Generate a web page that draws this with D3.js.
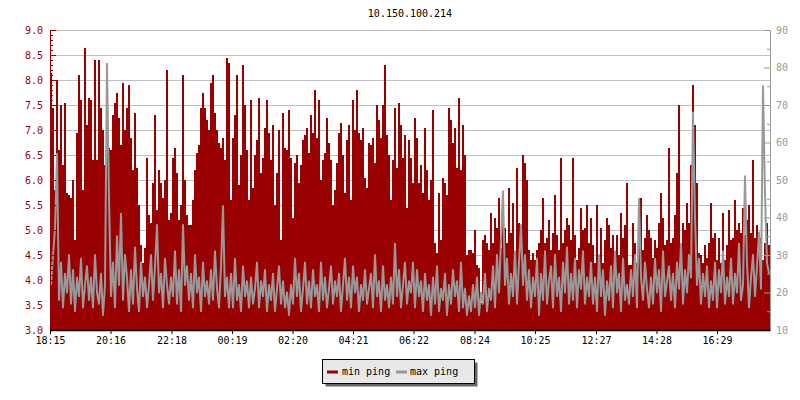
<!DOCTYPE html>
<html>
<head>
<meta charset="utf-8">
<script src="https://cdn.jsdelivr.net/npm/d3@7"></script>
<style>
  html, body { margin: 0; padding: 0; background: #ffffff; }
  svg text { font-family: "DejaVu Sans Mono", "Liberation Mono", monospace; font-size: 10px; }
</style>
</head>
<body>
<svg id="chart" width="800" height="400"></svg>
<script>
// ---- data (one sample every 4 minutes, starting 18:15) ----
const title = "10.150.100.214";
const seriesNames = ["min ping", "max ping"];
const startLabel = "18:15";
const sampleMinutes = 4;

// min ping (left axis)
const minPing = [
  8.15, 7.45, 5.8, 8.0, 6.6, 7.5, 6.3, 7.55, 5.75, 5.7,
  5.65, 6.0, 4.8, 6.95, 8.1, 7.6, 5.8, 8.65, 7.1, 7.65,
  7.6, 6.4, 8.4, 6.4, 8.4, 7.45, 7.0, 6.3, 6.95, 6.65,
  6.6, 7.3, 7.55, 7.75, 7.25, 6.7, 7.95, 7.0, 7.45, 7.9,
  6.85, 6.2, 7.35, 6.25, 5.5, 4.7, 4.35, 4.65, 6.45, 5.3,
  5.15, 5.95, 7.3, 5.4, 6.2, 5.95, 5.65, 6.0, 8.2, 5.2,
  5.35, 6.45, 6.65, 6.15, 5.2, 5.5, 8.1, 6.0, 5.3, 5.1,
  5.1, 5.6, 6.2, 6.55, 6.7, 7.45, 7.75, 7.45, 7.2, 7.0,
  7.95, 8.1, 7.35, 7.0, 6.75, 6.65, 6.85, 6.4, 8.45, 8.35,
  5.6, 6.85, 7.3, 8.1, 5.9, 6.5, 8.3, 7.5, 6.6, 5.6,
  7.6, 5.85, 6.5, 6.8, 7.65, 6.15, 6.45, 7.05, 7.6, 6.95,
  6.4, 7.1, 5.5, 6.15, 7.0, 4.8, 7.35, 6.65, 6.6, 7.4,
  6.45, 5.25, 6.35, 6.5, 5.95, 6.3, 6.8, 6.9, 7.05, 6.55,
  7.3, 6.95, 7.8, 6.85, 7.6, 6.0, 6.4, 6.55, 7.25, 6.75,
  6.4, 5.5, 5.8, 6.35, 6.95, 7.15, 6.5, 5.75, 6.8, 7.1,
  5.6, 7.6, 7.0, 7.8, 6.95, 6.8, 7.05, 6.05, 5.85, 6.75,
  6.7, 6.85, 6.35, 7.5, 7.2, 6.85, 7.5, 8.3, 6.9, 6.5,
  5.6, 6.4, 7.45, 6.25, 7.55, 7.1, 6.45, 6.9, 5.45, 6.8,
  6.45, 5.95, 7.25, 6.85, 5.95, 6.3, 5.75, 7.05, 6.2, 5.6,
  6.0, 7.4, 4.75, 4.55, 5.75, 4.8, 6.05, 5.95, 5.7, 7.45,
  7.2, 6.75, 7.05, 6.25, 7.65, 6.2, 7.1, 6.5, 4.5, 4.6,
  4.6, 4.55, 5.0, 4.3, 4.25, 3.55, 4.8, 4.9, 4.75, 4.6,
  5.35, 4.75, 5.25, 5.05, 5.65, 4.65, 5.5, 5.05, 4.75, 5.85,
  4.95, 5.55, 4.2, 6.25, 5.15, 5.0, 6.5, 6.35, 6.0, 4.6,
  4.4, 4.55, 4.4, 4.6, 4.75, 5.0, 5.65, 4.75, 4.85, 5.2,
  4.6, 4.95, 5.7, 4.9, 4.6, 6.45, 4.75, 5.0, 5.25, 5.1,
  4.8, 6.45, 4.9, 4.4, 4.65, 5.45, 5.0, 5.05, 5.5, 4.75,
  5.25, 4.7, 4.35, 5.5, 4.4, 5.05, 4.35, 4.8, 5.25, 5.1,
  4.65, 4.9, 4.55, 4.9, 4.5, 5.35, 4.85, 5.1, 5.95, 4.3,
  4.3, 5.15, 4.75, 4.35, 4.85, 5.65, 4.6, 4.85, 5.3, 5.0,
  4.85, 4.45, 4.8, 4.65, 5.15, 5.75, 5.25, 4.7, 4.8, 6.65,
  4.75, 4.85, 5.3, 6.15, 7.5, 4.55, 5.15, 5.0, 5.55, 5.15,
  6.3, 7.9, 7.1, 5.95, 4.55, 4.5, 4.35, 4.7, 4.45, 4.75,
  5.55, 4.85, 4.95, 4.4, 4.85, 4.35, 5.35, 4.4, 4.7, 5.4,
  4.8, 4.85, 5.6, 5.0, 5.15, 4.95, 5.45, 4.9, 5.2, 5.5,
  4.95, 6.4, 4.85, 5.1, 4.75, 4.85, 4.4, 4.75, 5.15, 4.7
];

// max ping (right axis)
const maxPing = [
  22, 30, 37, 57, 18, 28, 16, 25, 20, 30,
  17, 26, 15, 24, 19, 29, 16, 22, 27, 18,
  24, 16, 30, 20, 17, 25, 14, 22, 81, 45,
  19, 28, 16, 35, 22, 41, 18, 30, 24, 15,
  26, 17, 32, 21, 15, 28, 19, 24, 16, 22,
  30, 18, 27, 38, 20, 25, 16, 29, 22, 17,
  24, 19, 31, 17, 26, 15, 38, 22, 27, 18,
  25, 16, 30, 20, 24, 15, 28, 19, 23, 17,
  26, 18, 31, 21, 16, 27, 43, 19, 24, 16,
  25, 16, 29, 18, 22, 15, 27, 19, 23, 16,
  24, 17, 21, 28, 16, 23, 19, 26, 15, 22,
  18, 25, 15, 21, 27, 17, 23, 16, 20, 14,
  22, 17, 29, 19, 25, 15, 21, 28, 17, 23,
  16, 26, 19, 22, 15, 28, 18, 24, 16, 21,
  27, 17, 23, 19, 25, 15, 22, 29, 18, 24,
  16, 27, 20, 24, 15, 22, 18, 26, 17, 21,
  25, 16, 30, 19, 23, 15, 27, 18, 22, 16,
  24, 17, 33, 19, 26, 16, 22, 28, 17, 23,
  20, 28, 16, 26, 19, 23, 15, 25, 18, 22,
  14, 24, 17, 27, 15, 21, 18, 25, 14, 22,
  17, 26, 19, 23, 15, 28, 16, 21, 14, 19,
  15, 22, 16, 24, 14, 20, 17, 25, 15, 21,
  18, 27, 16, 30, 20, 34, 47, 22, 29, 17,
  25, 19, 31, 17, 28, 38, 22, 30, 18, 26,
  16, 24, 19, 29, 14, 25, 18, 31, 17, 23,
  27, 16, 30, 19, 24, 15, 28, 20, 32, 17,
  25, 18, 29, 16, 26, 21, 31, 17, 24, 19,
  28, 17, 24, 15, 30, 19, 26, 14, 23, 18,
  27, 16, 31, 20, 25, 15, 29, 18, 22, 17,
  26, 19, 30, 16, 45, 24, 18, 28, 21, 16,
  24, 17, 29, 20, 26, 15, 31, 19, 23, 27,
  18, 25, 16, 28, 21, 33, 17, 26, 20, 30,
  24, 68, 40, 22, 29, 17, 25, 19, 27, 16,
  23, 18, 28, 16, 26, 20, 31, 17, 24, 19,
  29, 17, 25, 20, 33, 18, 22, 51, 28, 16,
  24, 30, 19, 27, 36, 21, 75, 46, 28, 25
];

const timeLabels = ["18:15", "20:16", "22:18", "00:19", "02:20", "04:21",
                    "06:22", "08:24", "10:25", "12:27", "14:28", "16:29"];
const leftTickLabels = ["3.0", "3.5", "4.0", "4.5", "5.0", "5.5", "6.0",
                        "6.5", "7.0", "7.5", "8.0", "8.5", "9.0"];
const rightTickLabels = ["10", "20", "30", "40", "50", "60", "70", "80", "90"];

// ---- layout ----
const svg = d3.select("#chart");
const mLeft = 50, mRight = 770, mTop = 30, mBottom = 330;
const RED = "#990000", GRAY = "#999999";

const toMin = s => { const [h, m] = s.split(":").map(Number); return h * 60 + m; };
const start = toMin(startLabel);
const offsetOf = s => { let v = toMin(s) - start; if (v < 0) v += 1440; return v; };

const x = d3.scaleLinear().domain([0, 1440]).range([mLeft, mRight]);
const yL = d3.scaleLinear().domain([+leftTickLabels[0], +leftTickLabels[leftTickLabels.length - 1]]).range([mBottom, mTop]);
const yR = d3.scaleLinear().domain([+rightTickLabels[0], +rightTickLabels[rightTickLabels.length - 1]]).range([mBottom, mTop]);

// title
svg.append("text").attr("x", (mLeft + mRight) / 2).attr("y", 17)
  .attr("text-anchor", "middle").attr("fill", "#000").text(title);

// grid
svg.append("g").selectAll("line").data(leftTickLabels.map(Number)).join("line")
  .attr("x1", mLeft).attr("x2", mRight)
  .attr("y1", d => Math.round(yL(d)) + 0.5).attr("y2", d => Math.round(yL(d)) + 0.5)
  .attr("stroke", "#c0c0c0").attr("stroke-width", 1);

// clip
svg.append("clipPath").attr("id", "plotclip").append("rect")
  .attr("x", mLeft).attr("y", mTop).attr("width", mRight - mLeft).attr("height", mBottom - mTop);

const plot = svg.append("g").attr("clip-path", "url(#plotclip)");

// min ping area (step)
const redData = minPing.concat([minPing[minPing.length - 1]]);
const area = d3.area()
  .x((d, i) => x(i * sampleMinutes))
  .y0(yL(+leftTickLabels[0]))
  .y1(d => yL(d))
  .curve(d3.curveStepAfter);
plot.append("path").datum(redData).attr("d", area)
  .attr("fill", RED).attr("shape-rendering", "crispEdges");

// max ping line
const line = d3.line()
  .x((d, i) => x(i * sampleMinutes + sampleMinutes / 2))
  .y(d => yR(d));
plot.append("path").datum(maxPing).attr("d", line)
  .attr("fill", "none").attr("stroke", GRAY).attr("stroke-width", 2)
  .attr("stroke-linejoin", "round");

// left axis (ticks inward)
const leftMajor = leftTickLabels.map(Number);
const leftMinor = d3.range(30, 91).map(v => v / 10).filter(v => Math.round(v * 10) % 5 !== 0);
const gL = svg.append("g").attr("transform", `translate(${mLeft},0)`);
gL.call(d3.axisRight(yL).tickValues(leftMinor).tickSize(3).tickSizeOuter(0).tickFormat(""));
const gL2 = svg.append("g").attr("transform", `translate(${mLeft},0)`);
gL2.call(d3.axisRight(yL).tickValues(leftMajor).tickSize(6).tickSizeOuter(0).tickFormat(""));
[gL, gL2].forEach(g => { g.select(".domain").attr("stroke", RED); g.selectAll(".tick line").attr("stroke", RED); g.selectAll("text").remove(); });
svg.append("g").selectAll("text").data(leftTickLabels).join("text")
  .attr("x", mLeft - 7).attr("y", d => yL(+d)).attr("dy", "0.35em")
  .attr("text-anchor", "end").attr("fill", RED).text(d => d);

// right axis (ticks inward)
const rightMajor = rightTickLabels.map(Number);
const rightMinor = d3.range(15, 90, 10);
const gR = svg.append("g").attr("transform", `translate(${mRight},0)`);
gR.call(d3.axisLeft(yR).tickValues(rightMinor).tickSize(3).tickSizeOuter(0).tickFormat(""));
const gR2 = svg.append("g").attr("transform", `translate(${mRight},0)`);
gR2.call(d3.axisLeft(yR).tickValues(rightMajor).tickSize(6).tickSizeOuter(0).tickFormat(""));
[gR, gR2].forEach(g => { g.select(".domain").attr("stroke", GRAY); g.selectAll(".tick line").attr("stroke", GRAY); g.selectAll("text").remove(); });
svg.append("g").selectAll("text").data(rightTickLabels).join("text")
  .attr("x", mRight + 6).attr("y", d => yR(+d)).attr("dy", "0.35em")
  .attr("text-anchor", "start").attr("fill", GRAY).text(d => d);

// bottom axis
const gB = svg.append("g").attr("transform", `translate(0,${mBottom})`);
gB.call(d3.axisBottom(x).tickValues(timeLabels.map(offsetOf)).tickSize(4).tickSizeOuter(0)
  .tickFormat((d, i) => timeLabels[i]));
gB.select(".domain").attr("stroke", "#000").attr("stroke-width", 1.5);
gB.selectAll(".tick line").attr("stroke", "#000");
gB.selectAll("text").attr("fill", "#000")
  .style("font-family", '"DejaVu Sans Mono", monospace').style("font-size", "10px");

// legend
const lg = svg.append("g");
lg.append("rect").attr("x", 325.5).attr("y", 362.5).attr("width", 152).attr("height", 24).attr("fill", "#666");
lg.append("rect").attr("x", 322.5).attr("y", 359.5).attr("width", 152).attr("height", 24)
  .attr("fill", "#e8e8e8").attr("stroke", "#000").attr("stroke-width", 1);
const items = [
  { name: seriesNames[0], color: RED, sx: 327, tx: 342 },
  { name: seriesNames[1], color: GRAY, sx: 396, tx: 410 }
];
items.forEach(it => {
  lg.append("line").attr("x1", it.sx).attr("x2", it.sx + 11).attr("y1", 372).attr("y2", 372)
    .attr("stroke", it.color).attr("stroke-width", 3);
  lg.append("text").attr("x", it.tx).attr("y", 375).attr("fill", "#000").text(it.name);
});
</script>
</body>
</html>
